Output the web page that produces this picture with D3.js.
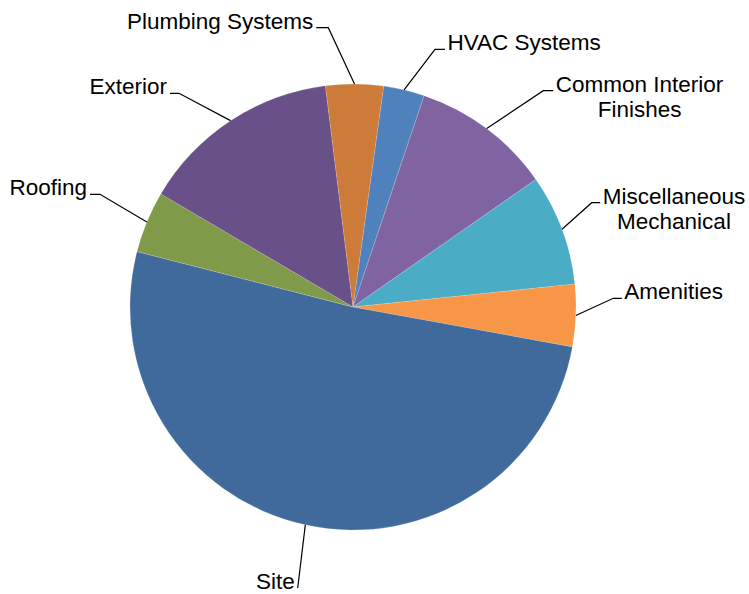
<!DOCTYPE html>
<html>
<head>
<meta charset="utf-8">
<script src="https://cdn.jsdelivr.net/npm/d3@7/dist/d3.min.js"></script>
<style>
  html, body { margin: 0; padding: 0; background: #fff; }
  svg { display: block; }
  text { font-family: "Liberation Sans", Arial, sans-serif; font-size: 22.5px; fill: #000; }
</style>
</head>
<body>
<svg id="chart" width="749" height="594"></svg>
<script>
// Share of total cost by category (percent), clockwise order
const categories = [
  "HVAC Systems",
  "Common Interior Finishes",
  "Miscellaneous Mechanical",
  "Amenities",
  "Site",
  "Roofing",
  "Exterior",
  "Plumbing Systems"
];
const shares = [2.97, 10.14, 8.06, 4.50, 51.14, 4.47, 14.56, 4.17];
// Label text, split into lines
const labelLines = [
  ["HVAC Systems"],
  ["Common Interior", "Finishes"],
  ["Miscellaneous", "Mechanical"],
  ["Amenities"],
  ["Site"],
  ["Roofing"],
  ["Exterior"],
  ["Plumbing Systems"]
];

// Slice colours
const colors = ["#4F81BD", "#8064A2", "#4BACC6", "#F79646", "#406A9B", "#7F9A48", "#6A5088", "#CD7B38"];

// Layout: centre, radius, label elbow offsets from the centre, tick length
const cx = 353, cy = 307, radius = 223;
const elbows = [
  [82, -257.7], [190.3, -216.3], [238.7, -104.3], [260.3, -8.7],
  [-55.3, 281], [-253, -112.7], [-174, -213.7], [-24.7, -279.3]
];
const ticks = [10, 10, 8.5, 8.5, 0, 10, 9, 12];
const lineGap = 25;

const svg = d3.select("#chart");
const g = svg.append("g").attr("transform", `translate(${cx},${cy})`);

const start = 7.9 * Math.PI / 180;
const pie = d3.pie().sort(null).value(d => d.v).startAngle(start).endAngle(start + 2 * Math.PI);
const data = pie(categories.map((c, i) => ({ c, v: shares[i], i })));
const arc = d3.arc().innerRadius(0).outerRadius(radius);

g.selectAll("path.slice")
  .data(data)
  .join("path")
  .attr("class", "slice")
  .attr("d", arc)
  .attr("fill", d => colors[d.data.i])
  .attr("stroke", "rgba(255,255,255,0.3)")
  .attr("stroke-width", 0.5);

// Leader lines and labels
data.forEach(d => {
  const i = d.data.i;
  const mid = (d.startAngle + d.endAngle) / 2;
  const px = radius * Math.sin(mid), py = -radius * Math.cos(mid);
  const [kx, ky] = elbows[i];
  const right = kx > 0;
  const tx = right ? kx + ticks[i] : kx - ticks[i];

  g.append("polyline")
    .attr("points", [[px, py], [kx, ky], [tx, ky]].map(p => p.join(",")).join(" "))
    .attr("fill", "none")
    .attr("stroke", "#000")
    .attr("stroke-width", 1.2);

  const lines = labelLines[i];
  const lab = g.append("text");
  const spans = lines.map((t, j) => lab.append("tspan").text(t).attr("y", ky + 0.8 + j * lineGap));
  const widths = spans.map(s => s.node().getComputedTextLength());
  const w = d3.max(widths);
  const left = right ? tx + 2.5 : tx - 3 - w;
  spans.forEach(s => s.attr("x", left + w / 2).attr("text-anchor", "middle"));
});
</script>
</body>
</html>
